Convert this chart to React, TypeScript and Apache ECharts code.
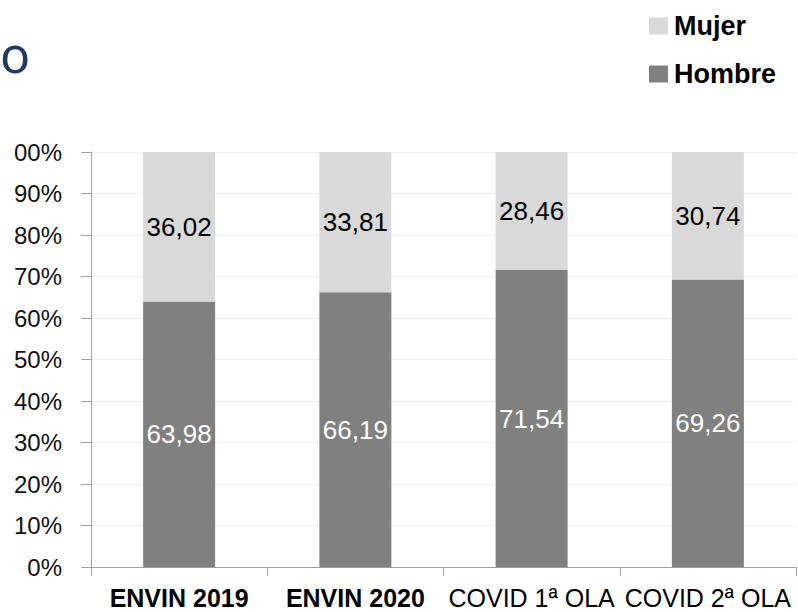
import React, { useEffect, useRef } from "react";
import * as echarts from "echarts";

const categories = ["ENVIN 2019", "ENVIN 2020", "COVID 1ª OLA", "COVID 2ª OLA"];
const boldCategory = [true, true, false, false];
const hombre = [63.98, 66.19, 71.54, 69.26];
const mujer = [36.02, 33.81, 28.46, 30.74];
const seriesNames = ["Mujer", "Hombre"];
const yTicks = [0, 10, 20, 30, 40, 50, 60, 70, 80, 90, 100];

const FONT = "'Liberation Sans', Arial, sans-serif";
const fmt = (v: number) => v.toFixed(2).replace(".", ",");

export default function App() {
  const ref = useRef<HTMLDivElement>(null);
  useEffect(() => {
    if (!ref.current) return;
    const chart = echarts.init(ref.current, null, { renderer: "svg" });
    chart.setOption({
      animation: false,
      backgroundColor: "#ffffff",
      textStyle: { fontFamily: FONT },
      graphic: [
        {
          type: "text",
          x: 0,
          y: 54,
          style: {
            text: "o",
            fontSize: 50,
            fontFamily: "'Noto Sans', sans-serif",
            fill: "#1F3864",
            align: "left",
            verticalAlign: "middle",
          },
        },
      ],
      legend: {
        data: [seriesNames[0], seriesNames[1]],
        orient: "vertical",
        left: 644,
        top: 7,
        itemWidth: 19,
        itemHeight: 17,
        itemGap: 20,
        icon: "rect",
        selectedMode: false,
        textStyle: {
          fontFamily: FONT,
          fontSize: 27,
          fontWeight: "bold",
          color: "#000",
          lineHeight: 28,
          padding: [0, 0, 0, 1],
        },
      },
      grid: { left: 91, right: 2, top: 152, bottom: 45, containLabel: false },
      xAxis: {
        type: "category",
        data: categories,
        boundaryGap: true,
        axisLine: { lineStyle: { color: "#a0a0a0", width: 1 } },
        axisTick: { show: true, length: 9, lineStyle: { color: "#a0a0a0" } },
        axisLabel: {
          interval: 0,
          margin: 18,
          formatter: (v: string) => {
            const i = categories.indexOf(v);
            return boldCategory[i] ? `{b|${v}}` : `{r|${v}}`;
          },
          rich: {
            b: { fontFamily: FONT, fontSize: 25, fontWeight: "bold", color: "#000" },
            r: { fontFamily: FONT, fontSize: 25, fontWeight: "normal", color: "#000" },
          },
        },
      },
      yAxis: {
        type: "value",
        min: yTicks[0],
        max: yTicks[yTicks.length - 1],
        interval: 10,
        axisLine: { show: true, lineStyle: { color: "#a0a0a0", width: 1 } },
        axisTick: { show: true, length: 10, lineStyle: { color: "#a0a0a0" } },
        splitLine: { show: true, lineStyle: { color: "#f0f0f0", width: 1 } },
        axisLabel: {
          margin: 29,
          fontFamily: FONT,
          fontSize: 24,
          color: "#111111",
          formatter: (v: number) => (v === 100 ? "00%" : v + "%"),
        },
      },
      series: [
        {
          name: "Hombre",
          type: "bar",
          stack: "total",
          barWidth: 72,
          data: hombre,
          itemStyle: { color: "#808080" },
          label: {
            show: true,
            position: "inside",
            fontFamily: FONT,
            fontSize: 26,
            color: "#ffffff",
            formatter: (p: any) => fmt(p.value),
          },
        },
        {
          name: "Mujer",
          type: "bar",
          stack: "total",
          barWidth: 72,
          data: mujer,
          itemStyle: { color: "#d9d9d9" },
          label: {
            show: true,
            position: "inside",
            fontFamily: FONT,
            fontSize: 26,
            color: "#000000",
            formatter: (p: any) => fmt(p.value),
          },
        },
      ],
    });
    return () => chart.dispose();
  }, []);
  return (
    <div
      ref={ref}
      style={{ position: "absolute", left: 0, top: 0, width: 798, height: 612 }}
    />
  );
}
